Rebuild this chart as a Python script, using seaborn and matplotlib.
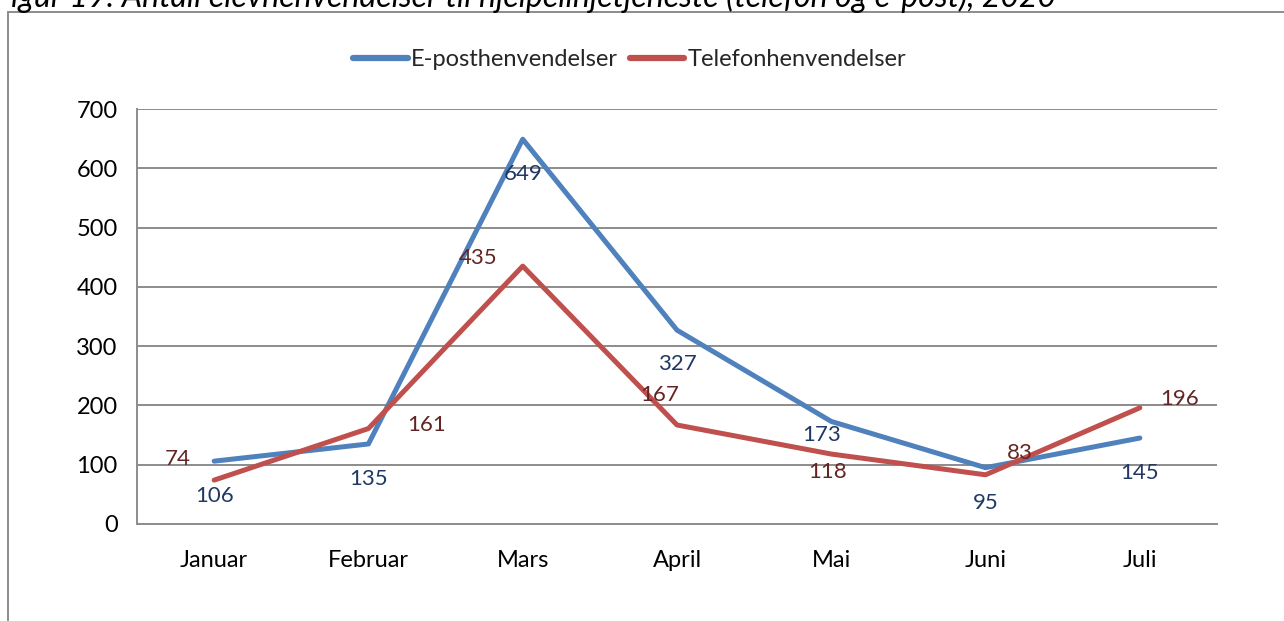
import matplotlib
matplotlib.use("Agg")
import matplotlib.pyplot as plt
import seaborn as sns
import pandas as pd
from matplotlib.patches import Rectangle
from matplotlib.lines import Line2D

months = ["Januar", "Februar", "Mars", "April", "Mai", "Juni", "Juli"]
epost = [106, 135, 649, 327, 173, 95, 145]
telefon = [74, 161, 435, 167, 118, 83, 196]
series_names = ["E-posthenvendelser", "Telefonhenvendelser"]
title = "Figur 19: Antall elevhenvendelser til hjelpelinjetjeneste (telefon og e-post), 2020"

sns.set_theme(style="white")
plt.rcParams["font.family"] = ["Lato", "DejaVu Sans"]

df = pd.DataFrame({
    "pos": list(range(len(months))) * 2,
    "value": epost + telefon,
    "series": [series_names[0]] * len(months) + [series_names[1]] * len(months),
})

fig = plt.figure(figsize=(12.84, 6.21), dpi=100)
ax = fig.add_axes([137 / 1284, 1 - 524 / 621, 1080 / 1284, 415 / 621])

palette = {series_names[0]: "#4F81BD", series_names[1]: "#C0504D"}
sns.lineplot(data=df, x="pos", y="value", hue="series", palette=palette,
             linewidth=3.6, ax=ax, legend=False, sort=False)

ax.set_xlim(-0.5, len(months) - 0.5)
ax.set_ylim(0, 700)
ax.set_yticks(range(0, 701, 100))
ax.set_xticks(range(len(months)))
ax.set_xticklabels(months)
ax.set_xlabel("")
ax.set_ylabel("")
ax.tick_params(axis="both", length=0, labelsize=17, colors="black")
ax.tick_params(axis="y", pad=14)
ax.tick_params(axis="x", pad=19)
ax.grid(axis="y", color="#8c8c8c", linewidth=1.4)
ax.set_axisbelow(True)
for side in ["top", "right"]:
    ax.spines[side].set_visible(False)
for side in ["left", "bottom"]:
    ax.spines[side].set_color("#8c8c8c")
    ax.spines[side].set_linewidth(1.4)

# data labels (offsets in pixels)
ep_off = [(0, -35), (0, -35), (0, -35), (0, -34), (-10, -14), (0, -35), (0, -35)]
tel_off = [(-36, 21), (58, 4), (-45, 8), (-17, 30), (-4, -18), (34, 22), (40, 9)]
for i, v in enumerate(epost):
    ax.annotate(str(v), (i, v), xytext=ep_off[i], textcoords="offset pixels",
                ha="center", va="center", fontsize=16, color="#1F3864")
for i, v in enumerate(telefon):
    ax.annotate(str(v), (i, v), xytext=tel_off[i], textcoords="offset pixels",
                ha="center", va="center", fontsize=16, color="#632523")

# legend
handles = [Line2D([0], [0], color=palette[n], linewidth=4.5, solid_capstyle="round") for n in series_names]
fig.legend(handles, series_names, loc="center", bbox_to_anchor=(630 / 1284, 1 - 60 / 621),
           ncol=2, frameon=False, fontsize=17, handlelength=2.3, handletextpad=0.15,
           columnspacing=0.5)

# outer frame
fig.patches.append(Rectangle((8 / 1284, -0.1), 1.2, 1.1 - 12 / 621, transform=fig.transFigure,
                             fill=False, edgecolor="#8c8c8c", linewidth=1.4))
# partially visible caption (cut off at the top in the reference)
fig.text(-0.005, 1 - 13 / 621, title, ha="left", va="bottom", fontsize=23, style="italic", color="black")

fig.savefig("out.png", dpi=100)
